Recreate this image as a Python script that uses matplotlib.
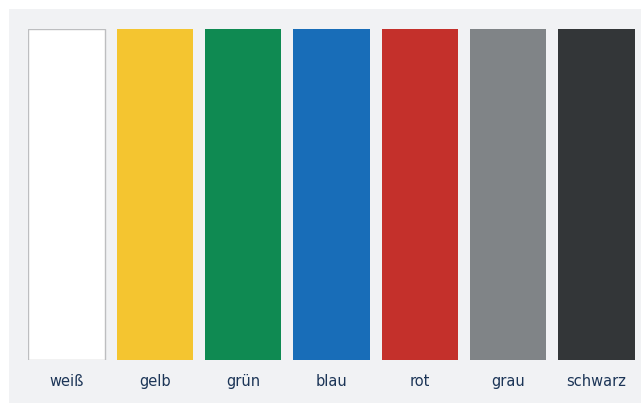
import matplotlib
matplotlib.use("Agg")
import matplotlib.pyplot as plt

categories = ["weiß", "gelb", "grün", "blau", "rot", "grau", "schwarz"]
values = [100, 100, 100, 100, 100, 100, 100]
colors = ["#FFFFFF", "#F4C530", "#0F8A52", "#186DB8", "#C4302B", "#808487", "#333638"]
edges = ["#BDBEC0", "none", "none", "none", "none", "none", "none"]

W, H = 641, 405
fig = plt.figure(figsize=(W / 100, H / 100), dpi=100)
fig.patch.set_facecolor("white")

bg = fig.add_axes([9 / W, 2 / H, 632 / W, 394 / H], zorder=-1)
bg.set_facecolor("#F1F2F4")
bg.set_xticks([])
bg.set_yticks([])
for s in bg.spines.values():
    s.set_visible(False)

ax = fig.add_axes([28 / W, (H - 360) / H, (635 - 28) / W, 331 / H], zorder=1)
ax.set_facecolor("none")
x = list(range(len(categories)))
ax.bar(x, values, width=0.865, color=colors, edgecolor=edges, linewidth=1.0)
ax.set_xlim(-0.435, len(categories) - 1 + 0.435)
ax.set_ylim(0, 100)
ax.set_xticks(x)
ax.set_xticklabels(categories, fontsize=10.5, color="#1C3557")
ax.tick_params(axis="x", length=0, pad=10)
ax.set_yticks([])
for s in ax.spines.values():
    s.set_visible(False)

fig.savefig("out.png", dpi=100)
